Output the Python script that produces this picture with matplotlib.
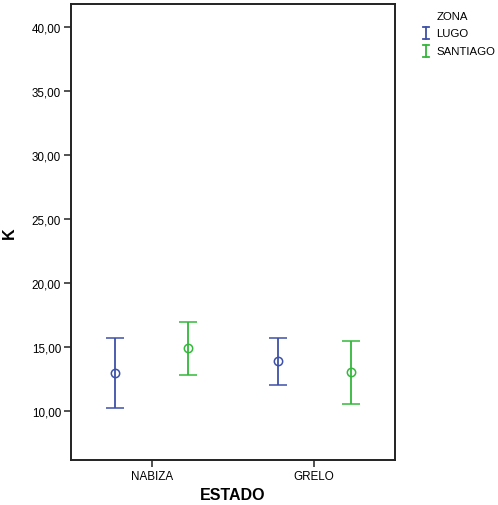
import matplotlib
matplotlib.use("Agg")
import matplotlib.pyplot as plt
from matplotlib.lines import Line2D
import numpy as np

plt.rcParams['font.family'] = ['Liberation Sans', 'DejaVu Sans']

categories = ["NABIZA", "GRELO"]
zonas = ["LUGO", "SANTIAGO"]
means = {"LUGO": [12.95, 13.88], "SANTIAGO": [14.92, 13.05]}
lower = {"LUGO": [10.23, 12.03], "SANTIAGO": [12.84, 10.55]}
upper = {"LUGO": [15.70, 15.70], "SANTIAGO": [16.95, 15.47]}
yticks = [10, 15, 20, 25, 30, 35, 40]
ytick_labels = ["10,00", "15,00", "20,00", "25,00", "30,00", "35,00", "40,00"]

colors = {"LUGO": "#3e51a8", "SANTIAGO": "#33b83b"}
offsets = {"LUGO": -0.225, "SANTIAGO": 0.225}

fig = plt.figure(figsize=(4.98, 5.06), dpi=100)
ax = fig.add_axes([0.142, 0.089, 0.652, 0.901])

x = np.arange(len(categories))
for z in zonas:
    m = np.array(means[z])
    lo = m - np.array(lower[z])
    hi = np.array(upper[z]) - m
    ax.errorbar(x + offsets[z], m, yerr=[lo, hi], fmt='o', color=colors[z],
                mfc='none', mec=colors[z], ms=6, mew=1.1, elinewidth=1.3,
                capsize=6.8, capthick=1.3)

ax.set_xlim(-0.5, 1.5)
ax.set_ylim(6.17, 41.8)
ax.set_xticks(x)
ax.set_xticklabels(categories, fontsize=8.4)
ax.set_yticks(yticks)
ax.set_yticklabels(ytick_labels, fontsize=8.4)
ax.tick_params(direction='out', length=5, width=1.2, color='#333333', pad=2)
for s in ax.spines.values():
    s.set_linewidth(1.4)
    s.set_color('#222222')

ax.set_ylabel("K", fontsize=11.5, fontweight='bold')
ax.yaxis.set_label_coords(-0.165, 0.5)
ax.set_xlabel("ESTADO", fontsize=11.5, fontweight='bold', labelpad=4)

# legend
fig.text(437/498, 1 - 17/506, "ZONA", fontsize=8.2, ha='left', va='center')
leg_y = [34, 52]
for z, yy in zip(zonas, leg_y):
    yf = 1 - yy / 506
    h = 6 / 506
    xf = 426 / 498
    w = 3 / 498
    fig.add_artist(Line2D([xf, xf], [yf - h, yf + h], color=colors[z], lw=1.3))
    fig.add_artist(Line2D([xf - w, xf + w], [yf + h, yf + h], color=colors[z], lw=1.3))
    fig.add_artist(Line2D([xf - w, xf + w], [yf - h, yf - h], color=colors[z], lw=1.3))
    fig.text(436 / 498, yf, z, fontsize=8.2, ha='left', va='center')

fig.savefig("out.png", dpi=100)
